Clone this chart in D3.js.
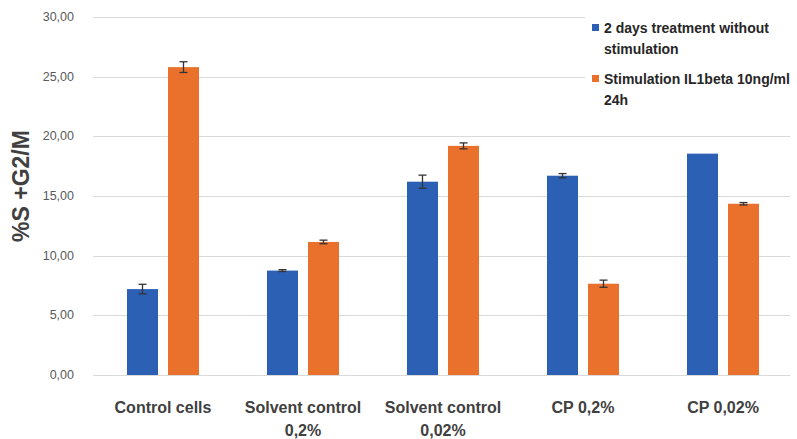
<!DOCTYPE html>
<html><head><meta charset="utf-8">
<script src="https://cdn.jsdelivr.net/npm/d3@7/dist/d3.min.js"></script>
<style>body{margin:0;background:#fff;} svg{display:block;}</style>
</head><body>
<svg id="c" width="797" height="439"></svg>
<script>
const categories = [["Control cells"], ["Solvent control", "0,2%"], ["Solvent control", "0,02%"], ["CP 0,2%"], ["CP 0,02%"]];
const seriesNames = [["2 days treatment without", "stimulation"], ["Stimulation IL1beta 10ng/ml", "24h"]];
const seriesA = [7.2, 8.75, 16.2, 16.7, 18.55];
const seriesB = [25.8, 11.15, 19.2, 7.65, 14.35];
const errA = [0.4, 0.08, 0.55, 0.18, 0];
const errB = [0.45, 0.15, 0.25, 0.3, 0.1];
const yTicks = [0, 5, 10, 15, 20, 25, 30];
const colors = ["#2c60b4", "#ea712c"];

const svg = d3.select("#c");
const y = d3.scaleLinear().domain([0, 30]).range([375, 17]);
const x0 = d3.scaleBand().domain(d3.range(categories.length)).range([93, 793]);
const x1 = d3.scaleBand().domain([0, 1]).range([34, 106]).paddingInner(10 / 41);
const fmt = v => d3.format(".2f")(v).replace(".", ",");

// gridlines
svg.append("g").selectAll("line").data(yTicks).join("line")
  .attr("x1", 93).attr("x2", 790)
  .attr("y1", d => Math.round(y(d)) + 0.5).attr("y2", d => Math.round(y(d)) + 0.5)
  .attr("stroke", "#d9d9d9").attr("stroke-width", 1.2);

// y tick labels
svg.append("g").selectAll("text").data(yTicks).join("text")
  .attr("x", 74).attr("y", d => y(d) + 4)
  .attr("text-anchor", "end")
  .attr("font-family", "Liberation Sans, Arial, sans-serif")
  .attr("font-size", 12.5).attr("fill", "#595959")
  .text(fmt);

// y axis title
svg.append("text")
  .attr("transform", "translate(29,186) rotate(-90)")
  .attr("text-anchor", "middle")
  .attr("font-family", "Liberation Sans, Arial, sans-serif")
  .attr("font-weight", "bold").attr("font-size", 23).attr("fill", "#404040")
  .text("%S +G2/M");

const data = categories.map((c, i) => [
  { s: 0, i, v: seriesA[i], e: errA[i] },
  { s: 1, i, v: seriesB[i], e: errB[i] }
]).flat();

const bars = svg.append("g");
bars.selectAll("rect").data(data).join("rect")
  .attr("x", d => x0(d.i) + x1(d.s))
  .attr("y", d => y(d.v))
  .attr("width", x1.bandwidth())
  .attr("height", d => y(0) - y(d.v))
  .attr("fill", d => colors[d.s]);

// error bars
const eb = svg.append("g").attr("stroke", "#333").attr("stroke-width", 1.3);
data.filter(d => d.e > 0).forEach(d => {
  const cx = x0(d.i) + x1(d.s) + x1.bandwidth() / 2;
  eb.append("line").attr("x1", cx).attr("x2", cx).attr("y1", y(d.v + d.e)).attr("y2", y(d.v - d.e));
  eb.append("line").attr("x1", cx - 4).attr("x2", cx + 4).attr("y1", y(d.v + d.e)).attr("y2", y(d.v + d.e));
  eb.append("line").attr("x1", cx - 4).attr("x2", cx + 4).attr("y1", y(d.v - d.e)).attr("y2", y(d.v - d.e));
});

// x labels
const xl = svg.append("g");
categories.forEach((lines, i) => {
  const t = xl.append("text")
    .attr("x", x0(i) + x0.bandwidth() / 2)
    .attr("text-anchor", "middle")
    .attr("font-family", "Liberation Sans, Arial, sans-serif")
    .attr("font-weight", "bold").attr("font-size", 16).attr("fill", "#404040");
  lines.forEach((l, k) => t.append("tspan").attr("x", x0(i) + x0.bandwidth() / 2).attr("y", 413 + k * 23).text(l));
});

// legend
const lg = svg.append("g");
lg.append("rect").attr("x", 585).attr("y", 8).attr("width", 212).attr("height", 115).attr("fill", "#fff");
seriesNames.forEach((lines, k) => {
  const top = 29 + k * 51;
  lg.append("rect").attr("x", 592).attr("y", top - 5).attr("width", 7).attr("height", 7).attr("fill", colors[k]);
  const t = lg.append("text")
    .attr("font-family", "Liberation Sans, Arial, sans-serif")
    .attr("font-weight", "bold").attr("font-size", 14).attr("fill", "#262626");
  lines.forEach((l, j) => t.append("tspan").attr("x", 604).attr("y", top + 4 + j * 21).text(l));
});
</script>
</body></html>
